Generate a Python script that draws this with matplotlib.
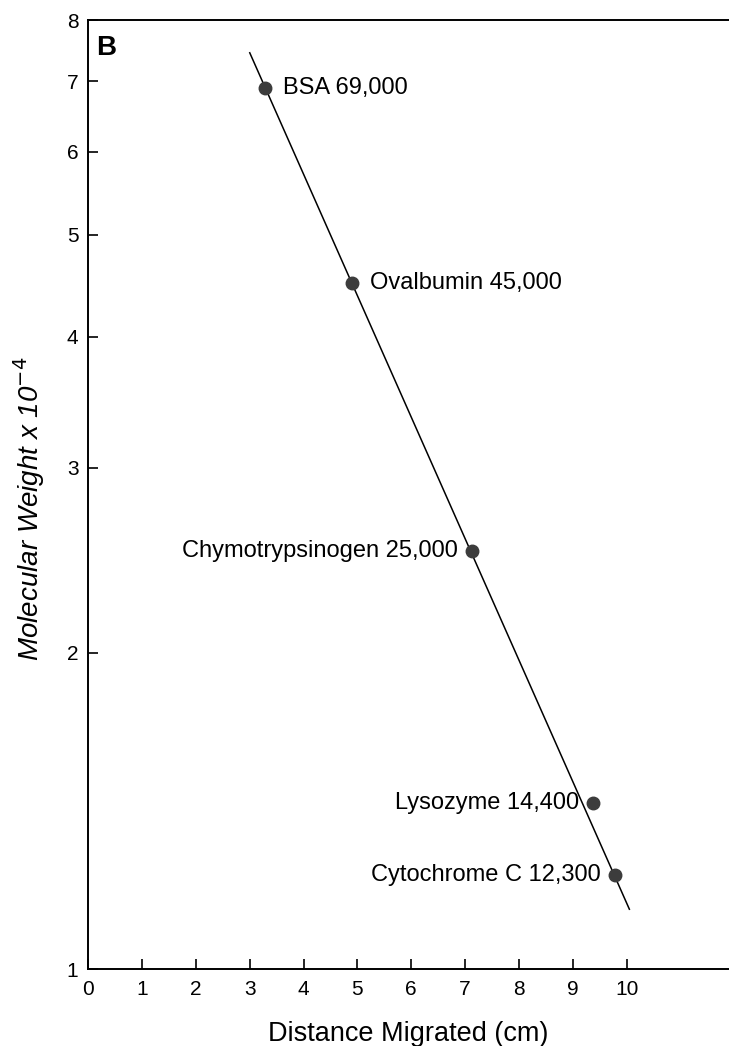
import matplotlib
matplotlib.use("Agg")
import matplotlib.pyplot as plt
from matplotlib.ticker import FixedLocator, NullLocator

# marker proteins: distance migrated (cm) and molecular weight x 10^-4
proteins = ["BSA 69,000", "Ovalbumin 45,000", "Chymotrypsinogen 25,000",
            "Lysozyme 14,400", "Cytochrome C 12,300"]
distance = [3.28, 4.90, 7.12, 9.38, 9.78]
mol_weight = [6.9, 4.5, 2.5, 1.44, 1.23]
label_side = ["right", "right", "left", "left", "left"]

# standard curve drawn through the markers
fit_x = [3.0, 10.05]
fit_y = [7.45, 1.14]

x_ticks = list(range(0, 11))
y_ticks = list(range(1, 9))

plt.rcParams["font.family"] = ["Liberation Sans", "DejaVu Sans"]

fig = plt.figure(figsize=(7.29, 10.46), dpi=100)
ax = fig.add_axes([0.121, 0.0736, 0.879, 0.907])

ax.plot(fit_x, fit_y, color="black", lw=1.1, zorder=2)
ax.plot(distance, mol_weight, "o", color="#3c3c3c", ms=9, zorder=3)

for name, x, y, side in zip(proteins, distance, mol_weight, label_side):
    if side == "right":
        ax.annotate(name, (x, y), xytext=(13, 0), textcoords="offset points",
                    ha="left", va="center", fontsize=17)
    else:
        ax.annotate(name, (x, y), xytext=(-10, 0), textcoords="offset points",
                    ha="right", va="center", fontsize=17)

ax.set_yscale("log")
ax.set_xlim(0, 11.9)
ax.set_ylim(1, 8)
ax.xaxis.set_major_locator(FixedLocator(x_ticks))
ax.yaxis.set_major_locator(FixedLocator(y_ticks))
ax.yaxis.set_minor_locator(NullLocator())
ax.set_xticklabels([str(t) for t in x_ticks])
ax.set_yticklabels([str(t) for t in y_ticks])
ax.tick_params(direction="in", length=7, width=1.2, labelsize=15, pad=8)
ax.tick_params(axis="y", pad=7)

ax.spines["right"].set_visible(False)
for s in ["left", "bottom", "top"]:
    ax.spines[s].set_linewidth(1.4)

ax.set_xlabel("Distance Migrated (cm)", fontsize=19.5)
ax.xaxis.set_label_coords(0.5, -0.055)
ax.set_ylabel(r"Molecular Weight x 10$^{-4}$", fontsize=20, style="italic")
ax.yaxis.set_label_coords(-0.064, 0.485)
ax.text(0.012, 0.985, "B", transform=ax.transAxes, fontsize=20,
        fontweight="bold", ha="left", va="top")

fig.savefig("out.png", dpi=100)
